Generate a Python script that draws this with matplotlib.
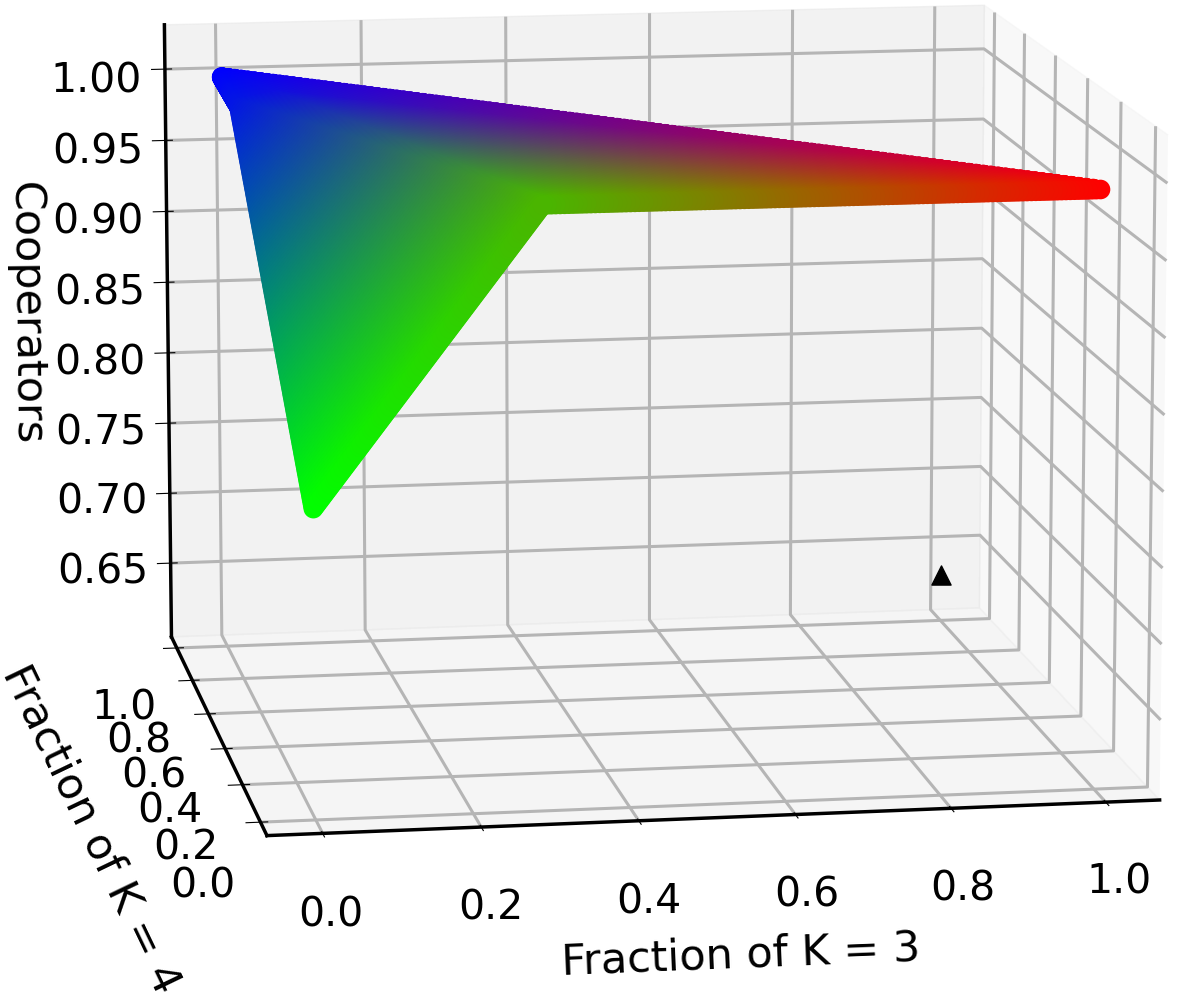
import matplotlib
matplotlib.use("Agg")
import matplotlib.pyplot as plt
import matplotlib.tri as mtri
import numpy as np

# control points: green corner, kink, red corner, blue corner
k3_frac = [0.0, 0.29, 1.0, 0.0, 0.012, 0.06]
k4_frac = [0.0, 0.0, 0.0, 1.0, 0.9, 0.88]
cooperators = [0.80, 0.991, 0.991, 0.999, 0.986, 0.992]
faces = [[0, 1, 4], [1, 5, 4], [4, 5, 3], [1, 2, 5], [5, 2, 3]]

tick_fracs = [0.0, 0.2, 0.4, 0.6, 0.8, 1.0]
tick_coop = [0.65, 0.70, 0.75, 0.80, 0.85, 0.90, 0.95, 1.00]
marker_point = (1.0, 1.0, 0.63)


def plot_surface_points(ax):
    tri = mtri.Triangulation(k3_frac, k4_frac, faces)
    refiner = mtri.UniformTriRefiner(tri)
    z_interp = mtri.LinearTriInterpolator(tri, np.array(cooperators))
    fine, z = refiner.refine_field(np.array(cooperators), z_interp, subdiv=7)
    # colour is simply the mixture: K=3 red, K=4 blue, the rest green
    r = np.clip(fine.x, 0, 1)
    b = np.clip(fine.y, 0, 1)
    g = np.clip(1 - r - b, 0, 1)
    ax.scatter(fine.x, fine.y, z, c=np.column_stack([r, g, b]), s=200,
               marker="o", linewidths=0, alpha=1, depthshade=False)


fig = plt.figure(figsize=(11.78, 9.98), dpi=100)
ax = fig.add_axes([0.0356, 0.087, 1, 1], projection="3d")
plot_surface_points(ax)
ax.scatter(*marker_point, c="k", marker="^", s=190, depthshade=False)

ax.set_xlim(-0.07, 1.07)
ax.set_ylim(-0.07, 1.07)
ax.set_zlim(0.597, 1.031)
ax.set_xticks(tick_fracs)
ax.set_yticks(tick_fracs)
ax.set_zticks(tick_coop)
ax.set_zticklabels(["%.2f" % v for v in tick_coop])
ax.tick_params(labelsize=29.5)
ax.tick_params(axis="z", pad=20)
ax.tick_params(axis="x", pad=18)
ax.tick_params(axis="y", pad=16)
ax.set_xlabel("Fraction of K = 3", fontsize=31, labelpad=37)
ax.set_ylabel("Fraction of K = 4", fontsize=31, labelpad=34)
ax.set_zlabel("Cooperators", fontsize=31, labelpad=38)
for axis in (ax.xaxis, ax.yaxis, ax.zaxis):
    axis._axinfo["grid"]["linewidth"] = 2.2
    axis._axinfo["grid"]["color"] = "#b5b5b5"
    axis.line.set_linewidth(2.5)
ax.view_init(elev=11.1, azim=-99.3)
ax.set_proj_type("persp", focal_length=1.5)
ax.set_box_aspect((4.0, 3.98, 3), zoom=1.346)

fig.savefig("out.png", dpi=100)
